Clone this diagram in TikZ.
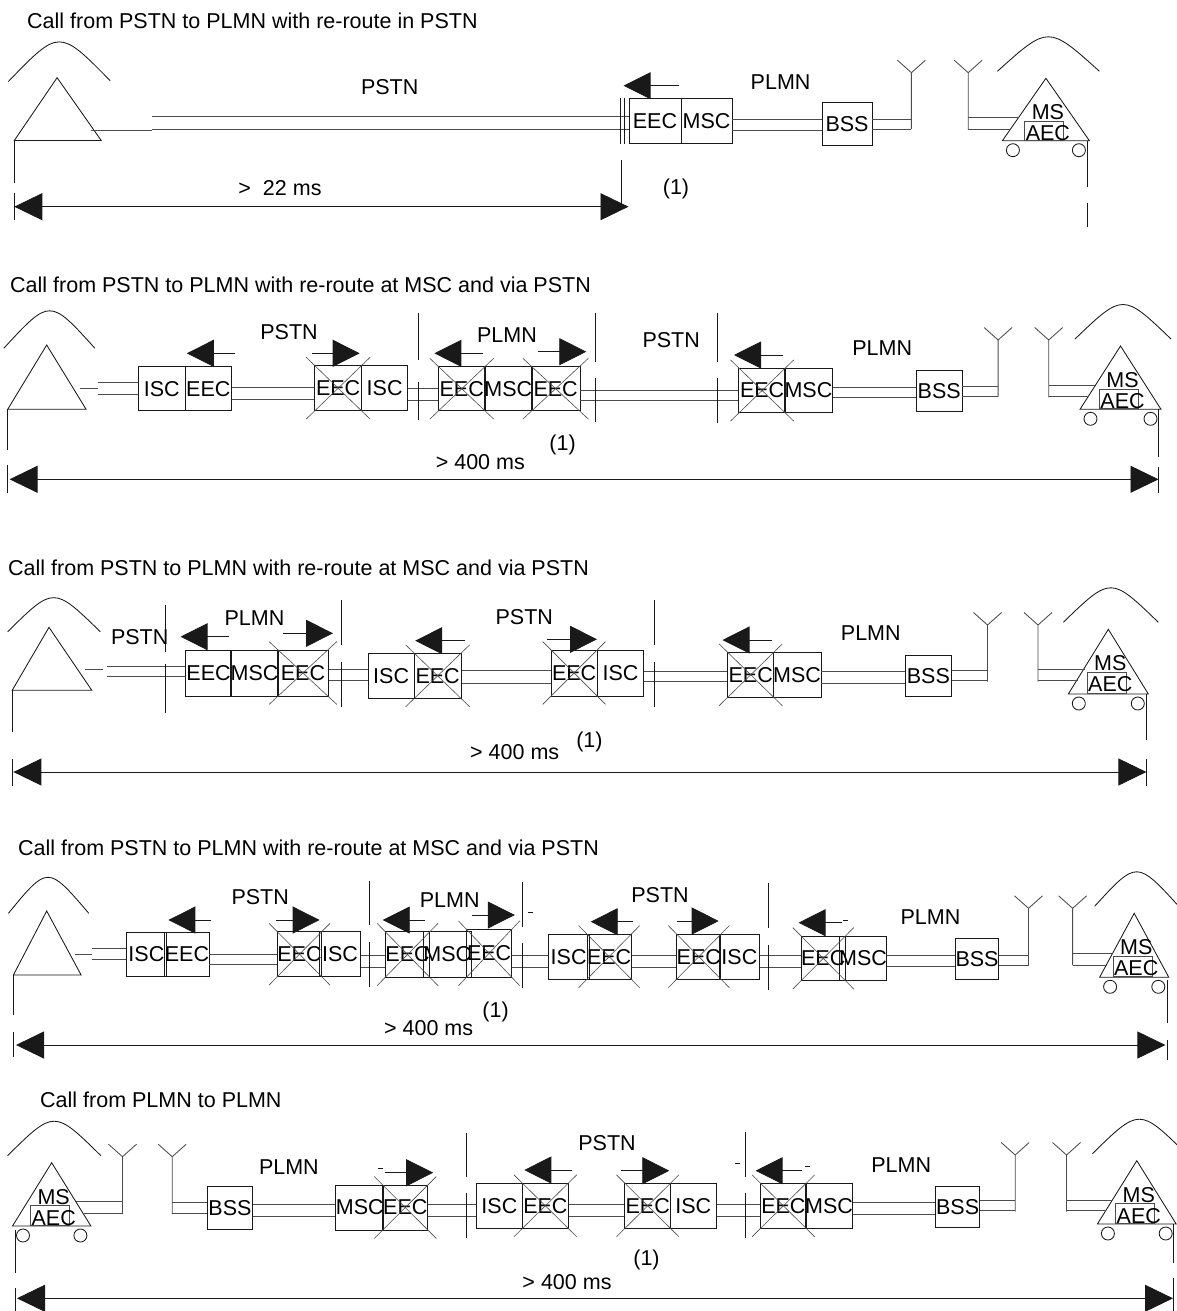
\documentclass[tikz,border=0pt]{standalone}
\usepackage{fontspec}
\setmainfont{Liberation Sans}
\usetikzlibrary{arrows.meta}
\definecolor{ln}{gray}{0.3}
\definecolor{bx}{gray}{0.1}
\definecolor{xl}{gray}{0.3}
\newcommand\fs{\fontsize{21.5}{24}\selectfont}
\tikzset{
 unit/.style={draw=bx, line width=0.85pt, inner sep=0pt, font=\fs},
 lbl/.style={font=\fs, inner sep=0pt},
 ttl/.style={font=\fs, inner sep=0pt, anchor=west},
 wire/.style={draw=ln, line width=0.85pt},
 sepline/.style={draw=bx, line width=0.85pt},
 xline/.style={draw=xl, line width=0.6pt},
 shapeline/.style={draw=bx, line width=0.85pt},
 dirarr/.style={draw=bx, line width=0.85pt, -{Triangle[length=27pt,width=27pt]}},
 dimarr/.style={draw=bx, line width=0.85pt, {Triangle[length=28pt,width=27pt]}-{Triangle[length=28pt,width=27pt]}},
}
\newcommand\ubox[6]{\node[unit,minimum width={#3pt-#2pt},minimum height={#5pt-#4pt}] (#1) at ({(#2+#3)/2},{(#4+#5)/2}) {#6};}
\newcommand\xbox[1]{\draw[xline] ([shift={(-8,8)}]#1.south west) -- ([shift={(8,-8)}]#1.north east) ([shift={(-8,-8)}]#1.north west) -- ([shift={(8,8)}]#1.south east);}
\newcommand\dbl[4]{\draw[wire] (#1 |- 0,#3) -- (#2 |- 0,#3) (#1 |- 0,#4) -- (#2 |- 0,#4);}
\newcommand\dirarrow[4]{\coordinate (#1s) at (#2,#4); \coordinate (#1e) at (#3,#4); \draw[dirarr] (#1s) -- (#1e);}
\newcommand\antenna[4]{\coordinate (#1) at (#2,#4); \coordinate (#1top) at (#2,#3);
 \draw[wire] (#1) -- (#1top) ([shift={(-14,-12.5)}]#1top) -- (#1top) -- ([shift={(14,-12.5)}]#1top);}
\newcommand\msunit[5]{%
 \draw[shapeline] (#2,#3) -- (#2-#4,#3+#5) -- (#2+#4,#3+#5) -- cycle;
 \draw[shapeline] (#2-#4-5,#3-7) .. controls (#2+2.5,#3-53) .. (#2+#4+10,#3-7);
 \draw[wire] (#2-21,#3+43) rectangle (#2+18,#3+#5-0.5);
 \node[lbl] (#1ms) at (#2+2,#3+34) {MS};
 \node[lbl] (#1aec) at (#2+2,#3+55) {AEC};
 \draw[shapeline] (#2-#4+10.5,#3+#5+9.5) circle[radius=6.5] (#2+#4-10.5,#3+#5+9.5) circle[radius=6.5];}
\begin{document}
\begin{tikzpicture}[x=1pt,y=-1pt]
\fill[white] (0,0) rectangle (1176,1311);
\useasboundingbox (0,0) rectangle (1176,1311);

% ================= Panel 1 =================
\node[ttl] (t1) at (27,20.5) {Call from PSTN to PLMN with re-route in PSTN};
\draw[shapeline] (8.2,81.7) .. controls (59.2,28.8) .. (110.2,80.7);
\draw[shapeline] (57.1,77.7) -- (14.3,140.5) -- (101.2,140.5) -- cycle;
\ubox{p1eec}{629}{681}{98.3}{143.3}{EEC}
\ubox{p1msc}{681}{732}{98.3}{143.3}{MSC}
\ubox{p1bss}{822}{872}{102.7}{145}{BSS}
\coordinate (p1ph) at (91,130);
\draw[wire] (p1ph) -- (151.8,130);
\dbl{151.8,0}{p1eec.west}{116.7}{129}
\dbl{p1msc.east}{p1bss.west}{119.3}{130.7}
\antenna{p1m1}{911.4}{72.7}{129}
\antenna{p1m2}{968.2}{72.7}{130}
\dbl{p1bss.east}{p1m1}{119.3}{129}
\msunit{p1s}{1045.9}{78.3}{43.5}{62.4}
\draw[wire] (p1m2 |- 0,117.7) -- (1018.8,117.7) (p1m2 |- 0,129) -- (1011.1,129);
\draw[sepline] (620,98) -- (620,144) (624,98) -- (624,144);
\dirarrow{p1a}{678.6}{623.6}{85.7}
\coordinate (p1dl) at (14.3,206.7); \coordinate (p1dr) at (628.5,206.7);
\draw[dimarr] (p1dl) -- (p1dr);
\draw[sepline] (14.3,140.5) -- (14.3,183.3) (14.3,193) -- (14.3,220) (621,160) -- (621,205)
 (1087.8,140.7) -- (1087.8,186.7) (1087.8,203.3) -- (1087.8,226.7);
\node[lbl] (p1l1) at (389.7,86.7) {PSTN};
\node[lbl] (p1l2) at (780.6,81.7) {PLMN};
\node[lbl] (p1l3) at (280,188.3) {>\ \ 22 ms};
\node[lbl] (p1l4) at (676,189.3) {(1)};

% ================= Panel 2 =================
\node[ttl] (t2) at (10,285) {Call from PSTN to PLMN with re-route at MSC and via PSTN};
\draw[shapeline] (3.8,348.3) .. controls (49.8,298.3) .. (94.9,348.3);
\draw[shapeline] (46.7,345) -- (7.7,409.3) -- (86.1,409.3) -- cycle;
\ubox{p2isc1}{138.5}{185.2}{366.7}{410.7}{ISC}
\ubox{p2eec1}{185.2}{231.5}{366.7}{410.7}{EEC}
\ubox{p2xeec1}{314.6}{361.7}{365.7}{410.7}{EEC}
\ubox{p2isc2}{361.7}{407.6}{365.7}{410.7}{ISC}
\ubox{p2xeec2}{438.2}{485.3}{366.7}{410.7}{EEC}
\ubox{p2msc1}{485.3}{531.2}{366.7}{410.7}{MSC}
\ubox{p2xeec3}{531.2}{580}{366.7}{410.7}{EEC}
\ubox{p2xeec4}{738.9}{785.3}{368.3}{412.7}{EEC}
\ubox{p2msc2}{785.3}{831.6}{368.3}{412.7}{MSC}
\ubox{p2bss}{916.4}{962}{370.7}{411.7}{BSS}
\xbox{p2xeec1} \xbox{p2xeec2} \xbox{p2xeec3} \xbox{p2xeec4}
\draw[wire] (79.6,388.3) -- (97.6,388.3);
\dbl{97.6,0}{p2isc1.west}{382}{394}
\dbl{p2eec1.east}{p2xeec1.west}{387.7}{399}
\dbl{p2isc2.east}{p2xeec2.west}{388.3}{400}
\dbl{p2xeec3.east}{p2xeec4.west}{390.5}{400}
\dbl{p2msc2.east}{p2bss.west}{387.7}{397.3}
\antenna{p2m1}{998.1}{340}{396.7}
\antenna{p2m2}{1048.7}{340}{397.3}
\dbl{p2bss.east}{p2m1}{386.7}{396.7}
\msunit{p2s}{1120.5}{346}{40.5}{63.3}
\draw[wire] (p2m2 |- 0,385) -- (1095.4,385) (p2m2 |- 0,396.7) -- (1087.9,396.7);
\draw[sepline] (418.5,313) -- (418.5,360) (418.5,381.7) -- (418.5,420)
 (595.2,313) -- (595.2,361.7) (595.2,378.3) -- (595.2,421.7)
 (717.6,313) -- (717.6,361.7) (717.6,378.3) -- (717.6,423.3);
\dirarrow{p2a1}{235.4}{186.8}{353.3}
\dirarrow{p2a2}{311.9}{359.7}{353.3}
\dirarrow{p2a3}{483}{434.4}{353.3}
\dirarrow{p2a4}{537.7}{586.3}{351.7}
\dirarrow{p2a5}{783.4}{734}{355}
\coordinate (p2dl) at (9.6,479.3); \coordinate (p2dr) at (1158.5,479.3);
\draw[dimarr] (p2dl) -- (p2dr);
\draw[sepline] (7.7,409.3) -- (7.7,450) (7.7,465) -- (7.7,493.3)
 (1158.5,409.3) -- (1158.5,456.7) (1158.5,466.7) -- (1158.5,493.3);
\node[lbl] (p2l1) at (289,331.7) {PSTN};
\node[lbl] (p2l2) at (507,335) {PLMN};
\node[lbl] (p2l3) at (671.2,340) {PSTN};
\node[lbl] (p2l4) at (882.2,348.3) {PLMN};
\node[lbl] (p2l5) at (480.3,461.7) {> 400 ms};
\node[lbl] (p2l6) at (562.6,445) {(1)};

% ================= Panel 3 =================
\node[ttl] (t3) at (8,568) {Call from PSTN to PLMN with re-route at MSC and via PSTN};
\draw[shapeline] (7.7,631.7) .. controls (53.6,586.3) .. (100.3,631.7);
\draw[shapeline] (49,627.3) -- (12.2,690.3) -- (91.8,690.3) -- cycle;
\ubox{p3eec1}{185.6}{231.5}{650}{696}{EEC}
\ubox{p3msc1}{231.5}{277.5}{650}{696}{MSC}
\ubox{p3xeec1}{277.5}{328.4}{650}{696}{EEC}
\ubox{p3isc1}{368.2}{414.1}{653.3}{698.3}{ISC}
\ubox{p3xeec2}{414.1}{461.2}{653.3}{698.3}{EEC}
\ubox{p3xeec3}{551.1}{597.1}{650}{696}{EEC}
\ubox{p3isc2}{597.1}{643.9}{650}{696}{ISC}
\ubox{p3xeec4}{727.5}{773.9}{652.3}{697.3}{EEC}
\ubox{p3msc2}{773.9}{820.2}{652.3}{697.3}{MSC}
\ubox{p3bss}{905}{951.7}{655}{696.7}{BSS}
\xbox{p3xeec1} \xbox{p3xeec2} \xbox{p3xeec3} \xbox{p3xeec4}
\draw[wire] (85,669.3) -- (102.6,669.3);
\dbl{107.2,0}{p3eec1.west}{666}{676}
\dbl{p3xeec1.east}{p3isc1.west}{669.3}{680.7}
\dbl{p3xeec2.east}{p3xeec3.west}{670.7}{683.3}
\dbl{p3isc2.east}{p3xeec4.west}{671}{681.7}
\dbl{p3msc2.east}{p3bss.west}{671}{683.3}
\antenna{p3m1}{987.5}{625}{681.7}
\antenna{p3m2}{1038}{625}{681.7}
\dbl{p3bss.east}{p3m1}{670}{680}
\msunit{p3s}{1108.3}{629.3}{40}{64.7}
\draw[wire] (p3m2 |- 0,669) -- (1084.5,669) (p3m2 |- 0,680.7) -- (1077.6,680.7);
\draw[sepline] (165.3,605) -- (165.3,651.7) (165.3,664) -- (165.3,712.7)
 (341.8,600) -- (341.8,645) (341.8,661.7) -- (341.8,706.7)
 (654.1,600) -- (654.1,645) (654.1,661.7) -- (654.1,706.7);
\dirarrow{p3a1}{228.9}{180.6}{636.7}
\dirarrow{p3a2}{283.2}{333}{633.3}
\dirarrow{p3a3}{465}{415.2}{640.7}
\dirarrow{p3a4}{547.3}{597}{639.3}
\dirarrow{p3a5}{772}{722.5}{640}
\coordinate (p3dl) at (13.4,772); \coordinate (p3dr) at (1146.4,772);
\draw[dimarr] (p3dl) -- (p3dr);
\draw[sepline] (12.2,690.3) -- (12.2,731.7) (12.2,759) -- (12.2,786)
 (1146.4,694) -- (1146.4,740) (1146.4,759) -- (1146.4,786);
\node[lbl] (p3l1) at (139.7,636.7) {PSTN};
\node[lbl] (p3l2) at (254.5,618.3) {PLMN};
\node[lbl] (p3l3) at (524.3,616.7) {PSTN};
\node[lbl] (p3l4) at (870.8,633.3) {PLMN};
\node[lbl] (p3l5) at (514.7,751.7) {> 400 ms};
\node[lbl] (p3l6) at (589.4,741.7) {(1)};

% ================= Panel 4 =================
\node[ttl] (t4) at (18,848) {Call from PSTN to PLMN with re-route at MSC and via PSTN};
\draw[shapeline] (8.4,913.3) .. controls (47.8,865.3) .. (88.8,913.3);
\draw[shapeline] (46.7,911) -- (13.4,975) -- (81.1,975) -- cycle;
\ubox{p4isc1}{126.3}{166.5}{932.3}{976.7}{ISC}
\ubox{p4eec1}{166.5}{207.4}{932.3}{976.7}{EEC}
\ubox{p4xeec1}{279.4}{319.6}{931.7}{976.7}{EEC}
\ubox{p4isc2}{319.6}{360.5}{931.7}{976.7}{ISC}
\ubox{p4xeec2}{387.3}{427.8}{931.7}{977.3}{EEC}
\ubox{p4msc1}{427.8}{466.9}{931.7}{977.3}{MSC}
\ubox{p4xeec3}{466.9}{511.3}{929.3}{977.3}{EEC}
\ubox{p4isc3}{548.3}{589}{934}{979.3}{ISC}
\ubox{p4xeec4}{589}{629.3}{934}{979.3}{EEC}
\ubox{p4xeec5}{678.3}{719.3}{934}{979.3}{EEC}
\ubox{p4isc4}{719.3}{759.4}{934}{979.3}{ISC}
\ubox{p4xeec6}{803.5}{843}{936}{980.7}{EEC}
\ubox{p4msc2}{843}{883}{936}{980.7}{MSC}
\ubox{p4bss}{957.1}{997}{938.7}{979.3}{BSS}
\xbox{p4xeec1} \xbox{p4xeec2} \xbox{p4xeec3} \xbox{p4xeec4} \xbox{p4xeec5} \xbox{p4xeec6}
\draw[wire] (75.4,954) -- (91.8,954);
\dbl{91.8,0}{p4isc1.west}{948.3}{959.3}
\dbl{p4eec1.east}{p4xeec1.west}{954}{964}
\dbl{p4isc2.east}{p4xeec2.west}{955}{967.3}
\dbl{p4xeec3.east}{p4isc3.west}{955}{967.3}
\dbl{p4xeec4.east}{p4xeec5.west}{955.7}{967.3}
\dbl{p4isc4.east}{p4xeec6.west}{955}{967.3}
\dbl{p4msc2.east}{p4bss.west}{955}{966}
\antenna{p4m1}{1028.5}{908.3}{965}
\antenna{p4m2}{1072.6}{908.3}{965}
\dbl{p4bss.east}{p4m1}{955}{965}
\msunit{p4s}{1134.2}{913.3}{34.6}{64}
\draw[wire] (p4m2 |- 0,953.3) -- (1112.8,953.3) (p4m2 |- 0,965) -- (1106.6,965);
\draw[sepline] (369.3,880.7) -- (369.3,925) (369.3,941.7) -- (369.3,986.7)
 (522.4,881.7) -- (522.4,926.7) (522.4,943.3) -- (522.4,988.3)
 (768.4,883.3) -- (768.4,928.3) (768.4,945) -- (768.4,990);
\draw[sepline] (528,912.7) -- (533,912.7) (843,920) -- (848,920);
\dirarrow{p4a1}{210.5}{168.4}{920}
\dirarrow{p4a2}{276.3}{319.6}{920}
\dirarrow{p4a3}{424.8}{382.7}{920}
\dirarrow{p4a4}{471.5}{514.8}{915}
\dirarrow{p4a5}{632.7}{590.7}{921.7}
\dirarrow{p4a6}{676.9}{718.7}{921}
\dirarrow{p4a7}{841.5}{798.6}{922.7}
\coordinate (p4dl) at (16,1045); \coordinate (p4dr) at (1165.4,1045);
\draw[dimarr] (p4dl) -- (p4dr);
\draw[sepline] (13.4,975) -- (13.4,1015) (13.4,1031.7) -- (13.4,1056.7)
 (1167.3,980) -- (1167.3,1023.3) (1167.3,1040) -- (1167.3,1060);
\node[lbl] (p4l1) at (260.2,897.3) {PSTN};
\node[lbl] (p4l2) at (449.7,900) {PLMN};
\node[lbl] (p4l3) at (660,895) {PSTN};
\node[lbl] (p4l4) at (930.5,916.7) {PLMN};
\node[lbl] (p4l5) at (428.6,1028.3) {> 400 ms};
\node[lbl] (p4l6) at (495.6,1011.7) {(1)};

% ================= Panel 5 =================
\node[ttl] (t5) at (40,1100) {Call from PLMN to PLMN};
\msunit{p5s}{51.7}{1162.7}{39.2}{63.3}
\ubox{p5bss1}{207.4}{252.6}{1186.7}{1229.3}{BSS}
\ubox{p5msc1}{336.8}{382.7}{1185}{1230}{MSC}
\ubox{p5xeec1}{382.7}{427.9}{1185}{1230}{EEC}
\ubox{p5isc1}{476.4}{522.4}{1183.3}{1228.3}{ISC}
\ubox{p5xeec2}{522.4}{568.3}{1183.3}{1228.3}{EEC}
\ubox{p5xeec3}{624.9}{670.5}{1183.3}{1228.3}{EEC}
\ubox{p5isc2}{670.5}{716.1}{1183.3}{1228.3}{ISC}
\ubox{p5xeec4}{760.5}{806.2}{1183.3}{1228.3}{EEC}
\ubox{p5msc2}{806.2}{851.8}{1183.3}{1228.3}{MSC}
\ubox{p5bss2}{935.4}{979.9}{1186}{1227.3}{BSS}
\xbox{p5xeec1} \xbox{p5xeec2} \xbox{p5xeec3} \xbox{p5xeec4}
\antenna{p5m1}{122.5}{1156.7}{1214}
\antenna{p5m2}{172.2}{1156.7}{1214}
\draw[wire] (76.4,1201.7) -- (p5m1 |- 0,1201.7) (83.8,1213.3) -- (p5m1 |- 0,1213.3);
\dbl{p5m2}{p5bss1.west}{1202.7}{1213.3}
\dbl{p5bss1.east}{p5msc1.west}{1204}{1216}
\dbl{p5xeec1.east}{p5isc1.west}{1204}{1216.7}
\dbl{p5xeec2.east}{p5xeec3.west}{1204}{1216.7}
\dbl{p5isc2.east}{p5xeec4.west}{1204}{1216.7}
\dbl{p5msc2.east}{p5bss2.west}{1202.7}{1214}
\antenna{p5m3}{1015.2}{1155}{1211.7}
\antenna{p5m4}{1066.5}{1155}{1211.7}
\dbl{p5bss2.east}{p5m3}{1200}{1210.7}
\msunit{p5t}{1136.8}{1160.7}{39.4}{63.3}
\draw[wire] (p5m4 |- 0,1200) -- (1111.6,1200) (p5m4 |- 0,1210.7) -- (1104.7,1210.7);
\draw[sepline] (466.9,1132.7) -- (466.9,1177.3) (466.9,1193.3) -- (466.9,1238.3)
 (745.3,1131.7) -- (745.3,1176.7) (745.3,1193.3) -- (745.3,1238.3);
\draw[sepline] (378,1168.3) -- (383,1168.3) (735,1163.3) -- (740,1163.3) (805,1166.7) -- (810,1166.7);
\dirarrow{p5a1}{384.6}{433.2}{1172.7}
\dirarrow{p5a2}{572.1}{524.3}{1170}
\dirarrow{p5a3}{621}{669.3}{1170.7}
\dirarrow{p5a4}{802.4}{755.6}{1170.7}
\coordinate (p5dl) at (17,1298.3); \coordinate (p5dr) at (1173,1298.3);
\draw[dimarr] (p5dl) -- (p5dr);
\draw[sepline] (15.3,1230) -- (15.3,1273.3) (15.3,1288.3) -- (15.3,1312)
 (1173.7,1224) -- (1173.7,1263.3) (1173.7,1278.3) -- (1173.7,1312);
\node[lbl] (p5l1) at (288.9,1166.7) {PLMN};
\node[lbl] (p5l2) at (607,1143.3) {PSTN};
\node[lbl] (p5l3) at (901.2,1165) {PLMN};
\node[lbl] (p5l4) at (567,1281.7) {> 400 ms};
\node[lbl] (p5l5) at (646.5,1260) {(1)};
\end{tikzpicture}
\end{document}
